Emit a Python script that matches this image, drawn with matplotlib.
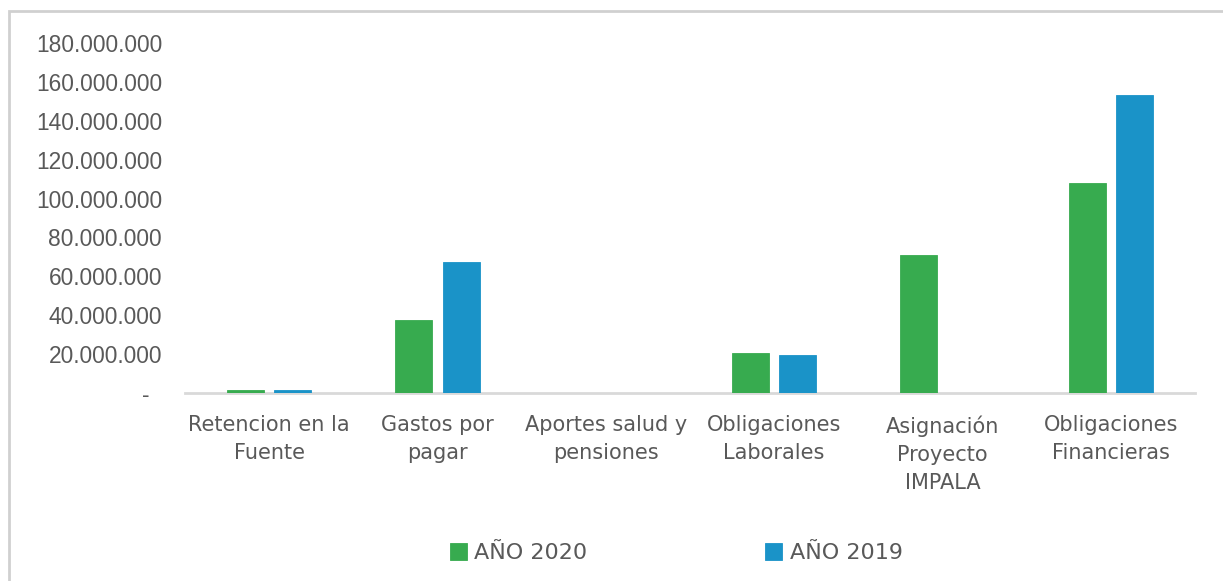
import matplotlib.pyplot as plt
import numpy as np
from matplotlib.ticker import FuncFormatter
from matplotlib.patches import Rectangle

# datos
categorias = ['Retencion en la\nFuente', 'Gastos por\npagar', 'Aportes salud y\npensiones',
              'Obligaciones\nLaborales', 'Asignación\nProyecto\nIMPALA', 'Obligaciones\nFinancieras']
anio_2020 = [1500000, 37600000, 0, 20600000, 71000000, 108200000]
anio_2019 = [1500000, 67500000, 0, 19600000, 0, 153000000]

verde = '#37ab4f'
azul = '#1a93c8'
gris_txt = '#595959'

fig = plt.figure(figsize=(12.23, 5.81), dpi=100)
# marco del grafico
fig.patches.append(Rectangle((9/1223, -0.1), 1.2, 1 - 11/581 + 0.1, transform=fig.transFigure,
                             fill=False, edgecolor='#d0d0d0', linewidth=2))

ax = fig.add_axes([185/1223, 1 - 393/581, 1010/1223, 350/581])

x = np.arange(len(categorias))
w = 0.22
ax.bar(x - 0.14, anio_2020, w, color=verde, edgecolor=verde, linewidth=0.6, label='AÑO 2020', zorder=3)
ax.bar(x + 0.14, anio_2019, w, color=azul, edgecolor=azul, linewidth=0.6, label='AÑO 2019', zorder=3)

ax.set_xlim(-0.5, len(categorias) - 0.5)
ax.set_ylim(0, 180000000)
ax.set_yticks(np.arange(0, 180000001, 20000000))

def fmt(v, pos):
    if v == 0:
        return '-  '
    return f'{int(v):,}'.replace(',', '.')

ax.yaxis.set_major_formatter(FuncFormatter(fmt))
ax.tick_params(axis='y', length=0, pad=16.5, labelsize=16.4, labelcolor=gris_txt)
ax.tick_params(axis='x', length=0, pad=16, labelcolor=gris_txt)
for t in ax.get_yticklabels():
    t.set_family('Liberation Sans')
ax.set_xticks(x)
ax.set_xticklabels(categorias, fontsize=15, family='DejaVu Sans', linespacing=1.5)

for s in ['top', 'right', 'left']:
    ax.spines[s].set_visible(False)
ax.spines['bottom'].set_color('#d9d9d9')
ax.spines['bottom'].set_linewidth(2)
ax.spines['bottom'].set_zorder(1)

leg = fig.legend(loc='center', bbox_to_anchor=(0.553, 0.048), ncol=2, frameon=False,
                 handlelength=0.75, handleheight=0.75, handletextpad=0.35, columnspacing=8.0,
                 prop={'family': 'DejaVu Sans', 'size': 16})
for t in leg.get_texts():
    t.set_color(gris_txt)

fig.savefig('out.png', dpi=100)
